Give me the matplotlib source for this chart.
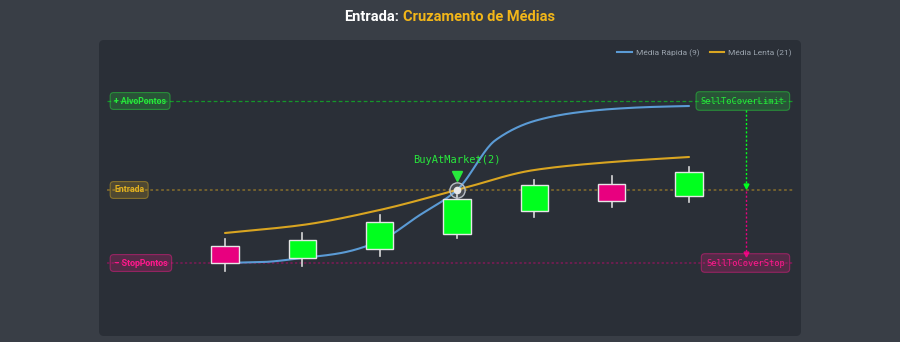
import numpy as np
import matplotlib.pyplot as plt
from matplotlib.patches import FancyBboxPatch, Rectangle
from matplotlib.lines import Line2D
from matplotlib.transforms import IdentityTransform, blended_transform_factory

plt.rcParams['font.family'] = ['Roboto', 'DejaVu Sans']

# candles (index, OHLC)
candle_x = [0, 1, 2, 3, 4, 5, 6]
open_ = [94.4, 93.2, 94.1, 95.6, 97.9, 100.6, 99.4]
high = [95.1, 95.7, 97.5, 99.5, 101.0, 101.4, 102.3]
low = [91.9, 92.4, 93.4, 95.2, 97.3, 98.3, 98.8]
close = [92.7, 95.0, 96.8, 99.1, 100.5, 98.9, 101.8]

# moving averages
fast_x = [0, 0.5, 1, 1.5, 2, 2.5, 3, 3.5, 4, 4.5, 5, 5.5, 6]
fast_ma = [92.7, 92.8, 93.2, 93.7, 94.9, 97.4, 100.0, 105.0, 106.9, 107.7, 108.1, 108.3, 108.4]
slow_x = [0, 1, 2, 3, 4, 5, 6]
slow_ma = [95.7, 96.5, 98.0, 100.0, 102.0, 102.8, 103.3]

# levels
entrada = 100.0
alvo = 108.9
stop = 92.7
entry_idx = 3
order_x = 6.737

# colors
BG = '#393e46'
PANEL = '#2a2f37'
GREEN = '#00ff1e'
PINK = '#e8007f'
GOLD = '#d9a521'
BLUE = '#5b9bd5'
TXT_GREEN = '#28e83c'
TXT_PINK = '#ff1a8c'


def monotone(x, y, n=24):
    # monotone cubic (like d3 curveMonotoneX)
    x = np.asarray(x, float)
    y = np.asarray(y, float)
    h = np.diff(x)
    d = np.diff(y) / h
    m = np.zeros_like(y)
    m[0] = d[0]
    m[-1] = d[-1]
    for i in range(1, len(x) - 1):
        if d[i - 1] * d[i] <= 0:
            m[i] = 0
        else:
            w1 = 2 * h[i] + h[i - 1]
            w2 = h[i] + 2 * h[i - 1]
            m[i] = (w1 + w2) / (w1 / d[i - 1] + w2 / d[i])
    xs, ys = [], []
    for i in range(len(h)):
        t = np.linspace(0, 1, n, endpoint=(i == len(h) - 1))
        h00 = 2 * t**3 - 3 * t**2 + 1
        h10 = t**3 - 2 * t**2 + t
        h01 = -2 * t**3 + 3 * t**2
        h11 = t**3 - t**2
        xs.append(x[i] + t * h[i])
        ys.append(h00 * y[i] + h10 * h[i] * m[i] + h01 * y[i + 1] + h11 * h[i] * m[i + 1])
    return np.concatenate(xs), np.concatenate(ys)


fig = plt.figure(figsize=(9, 3.42), dpi=100, facecolor=BG)

# panel
panel = FancyBboxPatch((99, 6), 702, 296, boxstyle='round,pad=0,rounding_size=5',
                       transform=IdentityTransform(), facecolor=PANEL, edgecolor='none',
                       zorder=-5)
fig.patches.append(panel)

ax = fig.add_axes([99 / 900, 6 / 342, 702 / 900, 296 / 342])
ax.set_facecolor('none')
ax.axis('off')
ax.set_xlim(-1.629, 7.448)
ax.set_ylim(85.4, 115.0)

# title
fig.text(399 / 900, 1 - 21 / 342, 'Entrada:', ha='right', va='baseline',
         color='white', fontsize=10.5, fontweight='bold')
fig.text(403 / 900, 1 - 21 / 342, 'Cruzamento de Médias', ha='left', va='baseline',
         color='#f2b619', fontsize=10.5, fontweight='bold')

# level lines
ax.axhline(alvo, 0.012, 0.988, color=GREEN, alpha=0.5, lw=0.9, ls=(0, (3, 2)), zorder=1)
ax.axhline(entrada, 0.012, 0.988, color=GOLD, alpha=0.45, lw=1.3, ls=(0, (1.5, 1.5)), zorder=1)
ax.axhline(stop, 0.012, 0.988, color=PINK, alpha=0.45, lw=1.1, ls=(0, (1.5, 1.5)), zorder=1)

# moving averages
fx, fy = monotone(fast_x, fast_ma)
sx, sy = monotone(slow_x, slow_ma)
ax.plot(fx, fy, color=BLUE, lw=1.5, zorder=2, solid_capstyle='round')
ax.plot(sx, sy, color=GOLD, lw=1.5, zorder=2, solid_capstyle='round')

# candles
bw = 0.35
for x, o, h, l, c in zip(candle_x, open_, high, low, close):
    col = GREEN if c >= o else PINK
    ax.plot([x, x], [l, h], color='#d8d8d8', lw=1.2, zorder=3)
    ax.add_patch(Rectangle((x - bw / 2, min(o, c)), bw, abs(c - o), facecolor=col,
                           edgecolor='#e6e6e6', lw=1.0, zorder=4))

# entry marker
ax.plot([entry_idx], [entrada], 'o', ms=11, markerfacecolor=(1, 1, 1, 0.15),
        markeredgecolor='#b8bec6', markeredgewidth=1.0, zorder=6)
ax.plot([entry_idx], [entrada], 'o', ms=4.5, color='#e8e8e8', zorder=7)
ax.plot([entry_idx], [entrada + 1.4], 'v', ms=7, color=TXT_GREEN, zorder=7)
ax.text(entry_idx, entrada + 3.0, 'BuyAtMarket(2)', ha='center', va='center',
        color=TXT_GREEN, fontsize=7.5, family='DejaVu Sans Mono', zorder=7)

# order arrows
ax.plot([order_x, order_x], [108.0, 100.4], color=GREEN, lw=1, ls=(0, (1.5, 1.5)), zorder=5)
ax.plot([order_x], [100.4], 'v', ms=3.5, color=GREEN, zorder=5)
ax.plot([order_x, order_x], [99.9, 93.6], color=PINK, lw=1, ls=(0, (1.5, 1.5)), zorder=5)
ax.plot([order_x], [93.6], 'v', ms=3.5, color=PINK, zorder=5)

# labels
tl = blended_transform_factory(ax.transAxes, ax.transData)
left_labels = ['+ AlvoPontos', 'Entrada', '– StopPontos']
left_levels = [alvo, entrada, stop]
left_colors = [TXT_GREEN, '#e0b020', TXT_PINK]
for lab, lv, col in zip(left_labels, left_levels, left_colors):
    ax.text(0.0215, lv, lab, transform=tl, ha='left', va='center', color=col, fontsize=6.3,
            fontweight='bold', zorder=8,
            bbox=dict(boxstyle='round,pad=0.45,rounding_size=0.4', facecolor=col,
                      edgecolor=col, lw=0.8))

right_labels = ['SellToCoverLimit', 'SellToCoverStop']
right_levels = [alvo, stop]
right_colors = [TXT_GREEN, TXT_PINK]
for lab, lv, col in zip(right_labels, right_levels, right_colors):
    ax.text(0.977, lv, lab, transform=tl, ha='right', va='center', color=col, fontsize=6.3,
            family='DejaVu Sans Mono', zorder=8,
            bbox=dict(boxstyle='round,pad=0.55,rounding_size=0.4', facecolor=col,
                      edgecolor=col, lw=0.8))

# translucent boxes
for t in ax.texts:
    b = t.get_bbox_patch()
    if b is not None:
        fc = b.get_facecolor()
        b.set_facecolor((fc[0], fc[1], fc[2], 0.2))
        b.set_edgecolor((fc[0], fc[1], fc[2], 0.45))

# legend
handles = [Line2D([], [], color=BLUE, lw=1.5), Line2D([], [], color=GOLD, lw=1.5)]
ax.legend(handles, ['Média Rápida (9)', 'Média Lenta (21)'], loc='upper right',
          bbox_to_anchor=(0.998, 0.995), ncol=2, frameon=False, fontsize=6,
          labelcolor='#9aa3ad', handlelength=1.7, columnspacing=1.3, handletextpad=0.5)

fig.savefig('out.png', dpi=100, facecolor=BG)
